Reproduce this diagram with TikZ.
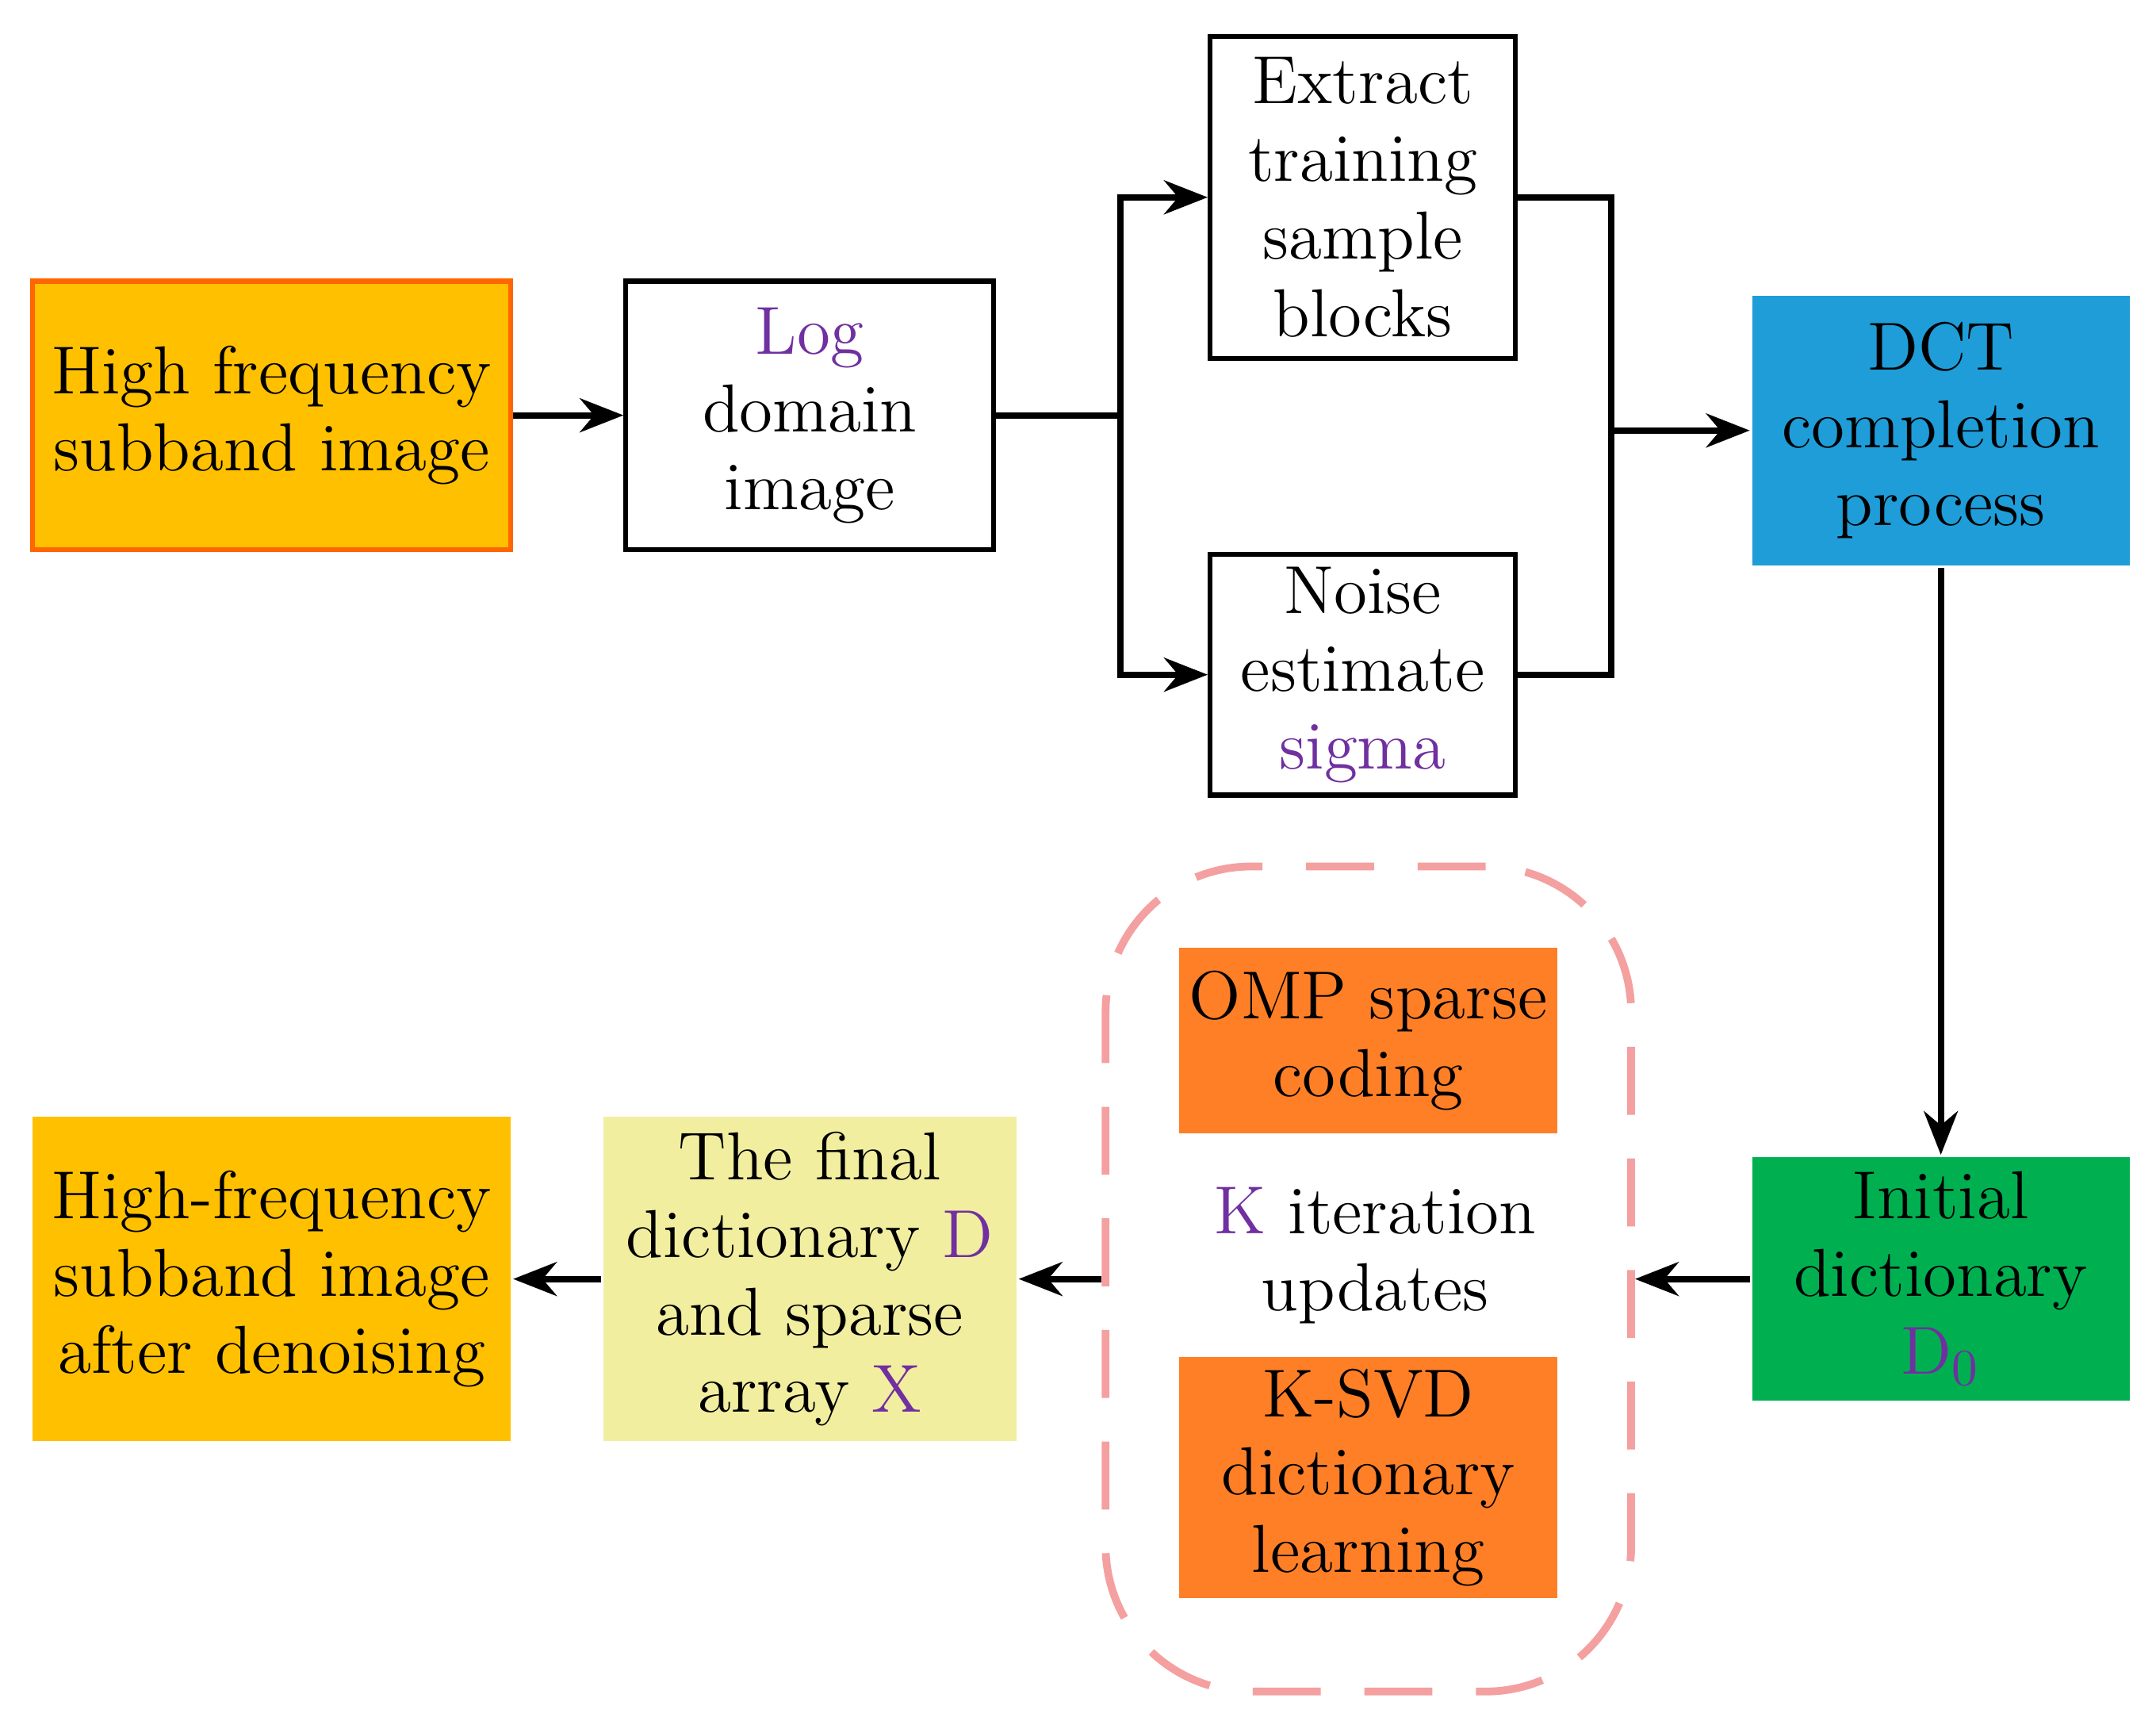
\documentclass[tikz,border=0pt]{standalone}
\usepackage{mathpazo}
\usetikzlibrary{arrows.meta}
\definecolor{pur}{HTML}{7030A0}
\definecolor{gold}{HTML}{FFC000}
\definecolor{blu}{HTML}{1E9DD9}
\definecolor{grn}{HTML}{00B050}
\definecolor{org}{HTML}{FF7F27}
\definecolor{yel}{HTML}{F2EEA0}
\definecolor{pink}{HTML}{F4A0A0}
\tikzset{
 box/.style={draw, line width=1pt, align=center, inner sep=0pt, font=\fontsize{14}{16}\selectfont},
 fillbox/.style={box, draw=none},
 arr/.style={-{Stealth[length=9pt,width=7pt]}, line width=1.3pt},
 ln/.style={line width=1.3pt}
}
\newcommand{\bx}[6]{\node[#1, minimum width=#4*0.01cm-1pt, minimum height=#5*0.01cm-1pt] (#2) at (#3) {#6};}
\begin{document}
\begin{tikzpicture}[x=0.01cm,y=-0.01cm]
\useasboundingbox (0,0) rectangle (1563,1250);
\bx{box,fill=gold,draw=orange!80!red}{hf}{197,301}{350}{198}{High frequency\\subband image}
\bx{box,fill=white}{log}{587,301}{270}{198}{\textcolor{pur}{\textbf{Log}}\\domain\\image}
\bx{box,fill=white}{ext}{988,143}{225}{237}{Extract\\training\\sample\\blocks}
\bx{box,fill=white}{noi}{988,489}{225}{178}{Noise\\estimate\\\textcolor{pur}{\textbf{\textit{sigma}}}}
\bx{fillbox,fill=blu}{dct}{1407,312}{277}{199}{DCT\\completion\\process}
\bx{fillbox,fill=grn}{ini}{1407,927}{277}{180}{Initial\\dictionary\\\textcolor{pur}{\textbf{\textit{D}}\textsubscript{0}}}
\node[draw=pink, dashed, dash pattern=on 14pt off 9pt, line width=1.6pt, rounded corners=30pt, minimum width=381*0.01cm, minimum height=598*0.01cm] (dash) at (992,927) {};
\bx{fillbox,fill=org}{omp}{992,754}{278}{138}{OMP sparse\\coding}
\node[box, draw=none] (kit) at (997,910) {\textcolor{pur}{\textbf{K}} iteration\\updates};
\bx{fillbox,fill=org}{ksvd}{992,1071}{278}{178}{K-SVD\\dictionary\\learning}
\bx{fillbox,fill=yel}{fin}{587,927}{303}{239}{The final\\dictionary \textcolor{pur}{\textbf{\textit{D}}}\\and sparse\\array \textcolor{pur}{\textbf{\textit{X}}}}
\bx{fillbox,fill=gold}{out}{197,927}{350}{239}{High-frequency\\subband image\\after denoising}
\coordinate (s) at (812,301);
\coordinate (j) at (1168,312);
\draw[arr] (hf) -- (log);
\draw[ln] (log.east) -- (s);
\draw[arr] (s) |- (ext.west);
\draw[arr] (s) |- (noi.west);
\draw[ln] (ext.east) -| (j);
\draw[ln] (noi.east) -| (j);
\draw[arr] (j) -- (dct.west);
\draw[arr] (dct) -- (ini);
\draw[arr] (ini) -- (dash);
\draw[arr] (dash) -- (fin);
\draw[arr] (fin) -- (out);
\end{tikzpicture}
\end{document}
